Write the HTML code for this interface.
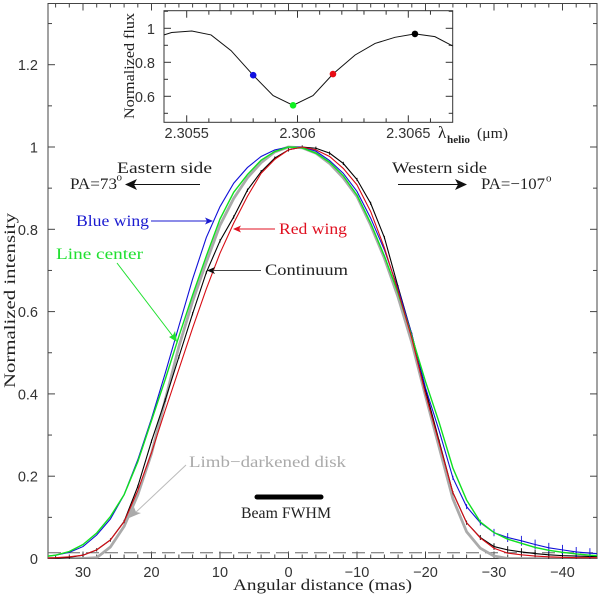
<!DOCTYPE html>
<html>
<head>
<meta charset="utf-8">
<style>
html,body{margin:0;padding:0;background:#fff;width:600px;height:595px;overflow:hidden}
svg{display:block}
text{font-family:"Liberation Serif",serif;fill:#222}
.tick{font-family:"Liberation Sans",sans-serif;font-size:14.5px;fill:#333}
</style>
</head>
<body>
<svg id="chart" xmlns="http://www.w3.org/2000/svg" width="600" height="595" viewBox="0 0 600 595">
<defs>
<clipPath id="main-clip"><rect x="48" y="3.5" width="549" height="555"/></clipPath>
<clipPath id="inset-clip"><rect x="164" y="10.7" width="288.7" height="111.6"/></clipPath>
</defs>
<g id="main-axes"></g>
<g id="main-series" clip-path="url(#main-clip)"></g>
<g id="annotations">
<text x="117" y="173" font-size="16" textLength="95" lengthAdjust="spacingAndGlyphs">Eastern side</text>
<text x="70" y="189" font-size="16" textLength="47" lengthAdjust="spacingAndGlyphs">PA=73</text>
<text x="116.5" y="180.5" font-size="11">o</text>
<line x1="200" y1="184.5" x2="130" y2="184.5" stroke="#111" stroke-width="1"/>
<polygon points="125,184.5 137,179 134,184.5 137,190" fill="#111"/>
<text x="392" y="173" font-size="16" textLength="95" lengthAdjust="spacingAndGlyphs">Western side</text>
<text x="481" y="189" font-size="16" textLength="64" lengthAdjust="spacingAndGlyphs">PA=−107</text>
<text x="546" y="181.5" font-size="11">o</text>
<line x1="398" y1="184.5" x2="462" y2="184.5" stroke="#111" stroke-width="1"/>
<polygon points="467,184.5 455,179 458,184.5 455,190" fill="#111"/>
<text x="76" y="226" font-size="16" textLength="73" lengthAdjust="spacingAndGlyphs" style="fill:#1a1ad0">Blue wing</text>
<line x1="151" y1="221" x2="209" y2="221" stroke="#1a1ad0"/>
<polygon points="213,221 205,217.5 207,221 205,224.5" fill="#1a1ad0"/>
<text x="279" y="234" font-size="16" textLength="68" lengthAdjust="spacingAndGlyphs" style="fill:#e01020">Red wing</text>
<line x1="275" y1="229" x2="237" y2="229" stroke="#e01020"/>
<polygon points="233,229 241,225.5 239,229 241,232.5" fill="#e01020"/>
<text x="56" y="259" font-size="16" textLength="87" lengthAdjust="spacingAndGlyphs" style="fill:#20e030">Line center</text>
<line x1="117" y1="263" x2="175" y2="339" stroke="#20e030"/>
<polygon points="177,342 169,337 173,335 175,331" fill="#20e030"/>
<text x="265" y="275" font-size="16" textLength="83" lengthAdjust="spacingAndGlyphs">Continuum</text>
<line x1="261" y1="270.5" x2="211" y2="270.5" stroke="#444"/>
<polygon points="207,270.5 215,267 213,270.5 215,274" fill="#111"/>
<text x="189" y="467" font-size="16" textLength="157" lengthAdjust="spacingAndGlyphs" style="fill:#aaa">Limb−darkened disk</text>
<line x1="186" y1="465" x2="134" y2="514" stroke="#bbb"/>
<polygon points="129,518 134,507 136,512 141,513" fill="#aaa"/>
<line x1="257" y1="497" x2="321" y2="497" stroke="#000" stroke-width="5" stroke-linecap="round"/>
<text x="241" y="518" font-size="16" textLength="90" lengthAdjust="spacingAndGlyphs">Beam FWHM</text>
<text x="233" y="590" font-size="16" textLength="179" lengthAdjust="spacingAndGlyphs">Angular distance (mas)</text>
<text transform="translate(15,388) rotate(-90)" font-size="16" textLength="175" lengthAdjust="spacingAndGlyphs">Normalized intensity</text>
</g>
<rect x="164" y="10.7" width="288.7" height="111.6" fill="#fff"/>
<g id="inset-axes"></g>
<g id="inset-series" clip-path="url(#inset-clip)"></g>
<text transform="translate(134,119) rotate(-90)" font-size="15" textLength="106" lengthAdjust="spacingAndGlyphs">Normalized flux</text>
<text x="438" y="138" font-size="17">λ</text>
<text x="447" y="143" font-size="10.5" font-weight="bold" textLength="23" lengthAdjust="spacingAndGlyphs">helio</text>
<text x="477" y="138" font-size="15" textLength="31" lengthAdjust="spacingAndGlyphs">(μm)</text>
</svg>
<script>
var distances = [36,34,32,30,28,26,24,22,20,18,16,14,12,10,8,6,4,2,0,-2,-4,-6,-8,-10,-12,-14,-16,-18,-20,-22,-24,-26,-28,-30,-32,-34,-36,-38,-40,-42,-44,-46];
var greyValues  = [0,0,0,0,0.002,0.028,0.078,0.155,0.255,0.385,0.515,0.625,0.72,0.81,0.875,0.925,0.962,0.988,1,0.998,0.985,0.96,0.925,0.88,0.81,0.73,0.635,0.525,0.395,0.27,0.145,0.065,0.025,0.006,0,0,0,0,0,0,0,0];
var blackValues = [0.001,0.001,0.003,0.008,0.021,0.045,0.09,0.175,0.285,0.385,0.49,0.595,0.695,0.772,0.83,0.895,0.94,0.973,0.993,1,0.997,0.985,0.96,0.921,0.863,0.78,0.66,0.545,0.41,0.285,0.16,0.087,0.051,0.029,0.021,0.016,0.012,0.009,0.007,0.006,0.005,0.005];
var blueValues  = [0.004,0.008,0.015,0.029,0.057,0.096,0.155,0.24,0.34,0.45,0.565,0.679,0.78,0.855,0.912,0.95,0.977,0.993,1,1,0.99,0.967,0.936,0.892,0.827,0.75,0.655,0.545,0.415,0.31,0.196,0.126,0.087,0.063,0.051,0.043,0.034,0.026,0.021,0.016,0.013,0.011];
var greenValues = [0.004,0.008,0.017,0.034,0.062,0.102,0.155,0.235,0.335,0.435,0.54,0.64,0.735,0.825,0.89,0.933,0.968,0.989,1,0.998,0.985,0.963,0.93,0.883,0.815,0.735,0.645,0.54,0.43,0.33,0.22,0.142,0.089,0.063,0.047,0.037,0.027,0.02,0.015,0.011,0.008,0.006];
var redValues   = [0.001,0.002,0.004,0.008,0.021,0.045,0.089,0.165,0.257,0.36,0.46,0.56,0.655,0.742,0.815,0.88,0.936,0.97,0.993,1,0.993,0.977,0.948,0.908,0.843,0.755,0.65,0.535,0.4,0.28,0.16,0.087,0.05,0.025,0.013,0.009,0.006,0.004,0.003,0.002,0.002,0.002];
var blueErrors  = [0,0,0,0,0,0,0,0,0,0,0,0,0,0,0,0,0,0,0,0,0,0,0,0,0,0,0,0,0,0,0.005,0.006,0.007,0.009,0.011,0.012,0.012,0.012,0.012,0.012,0.012,0];
var blackErrors = [0.003,0.003,0.003,0.004,0.004,0.004,0.004,0.004,0.004,0.004,0.004,0.004,0.004,0.004,0.004,0.004,0.004,0.004,0.004,0.004,0.004,0.004,0.004,0.004,0.004,0.004,0.004,0.004,0.004,0.004,0.004,0.005,0.006,0.008,0.009,0.009,0.009,0.009,0.009,0.009,0.009,0];
var dashedLevel = [0.014];

var xTickLabels = [30,20,10,0,-10,-20,-30,-40];
var yTickLabels = [0,0.2,0.4,0.6,0.8,1,1.2];

var insetWavelengths = [2.305398,2.305432,2.305523,2.30561,2.3057,2.3058,2.30589,2.30598,2.30607,2.30616,2.30626,2.30635,2.30644,2.30653,2.30662,2.3067];
var insetFlux = [0.961,0.975,0.984,0.961,0.869,0.724,0.604,0.547,0.604,0.731,0.843,0.911,0.947,0.967,0.951,0.896];
var insetMarkerWavelengths = [2.3058,2.30598,2.30616,2.30653];
var insetMarkerFlux = [0.724,0.547,0.731,0.967];
var insetMarkerNames = ['blue','green','red','black'];
var insetXTickValues = [2.3055,2.306,2.3065];
var insetXTickLabels = ['2.3055','2.306','2.3065'];
var insetYTickLabels = [0.6,0.8,1];

var NS = 'http://www.w3.org/2000/svg';
function X(d){return 288.5 - 6.85*d;}
function Y(v){return 558.5 - 411.5*v;}
function IX(l){return 186.7 + (l-2.3055)*221600;}
function IY(v){return 28.3 + (1-v)*170;}
function mk(parent,tag,attrs,txt){
  var el=document.createElementNS(NS,tag);
  for(var k in attrs){el.setAttribute(k,attrs[k]);}
  if(txt!==undefined){el.textContent=txt;}
  parent.appendChild(el);
  return el;
}
var mainAxes=document.getElementById('main-axes');
var mainSeries=document.getElementById('main-series');
var insetAxes=document.getElementById('inset-axes');
var insetSeries=document.getElementById('inset-series');

var frame=mk(mainAxes,'rect',{x:48,y:3.5,width:549,height:555,fill:'none',stroke:'#444','stroke-width':1});



function tick(parent,x1,y1,x2,y2,color){
  var t=mk(parent,'line',{x1:x1,y1:y1,x2:x2,y2:y2,stroke:color||'#444','stroke-width':1});
  
  
}
var xm;
for(xm=34;xm>=-44;xm-=2){
  var major=(xm%10===0);
  var len=major?7:4;
  tick(mainAxes,X(xm),558.5,X(xm),558.5-len);
  tick(mainAxes,X(xm),3.5,X(xm),3.5+len);
}
var ym;
for(ym=1;ym<=13;ym++){
  var isMajor=(ym%2===0);
  var ylen=isMajor?7:4;
  tick(mainAxes,48,Y(ym/10),48+ylen,Y(ym/10));
  tick(mainAxes,597,Y(ym/10),597-ylen,Y(ym/10));
}
xTickLabels.forEach(function(v){
  var t=mk(mainAxes,'text',{x:X(v),y:577,'text-anchor':'middle','class':'tick'},v<0?'−'+Math.abs(v):String(v));
  
  
});
yTickLabels.forEach(function(v){
  var t=mk(mainAxes,'text',{x:38,y:Y(v)+5.5,'text-anchor':'end','class':'tick'},String(v));
  
  
});

function linePath(xs,ys,fx,fy){
  return xs.map(function(x,i){return (i?'L':'M')+fx(x).toFixed(2)+' '+fy(ys[i]).toFixed(2);}).join(' ');
}
var dashed=mk(mainSeries,'line',{x1:48,x2:597,y1:Y(dashedLevel[0]),y2:Y(dashedLevel[0]),stroke:'#666','stroke-width':1,'stroke-dasharray':'13 6'});



var g1=mk(mainSeries,'path',{d:linePath(distances,greyValues,X,Y),fill:'none',stroke:'#aaaaaa','stroke-width':2.8,'stroke-linejoin':'round'});



var b1=mk(mainSeries,'path',{d:linePath(distances,blackValues,X,Y),fill:'none',stroke:'#000','stroke-width':1.1});


distances.forEach(function(d,i){
  var e=mk(mainSeries,'line',{x1:X(d),x2:X(d),y1:Y(blackValues[i]-blackErrors[i]),y2:Y(blackValues[i]+blackErrors[i]),stroke:'#000','stroke-width':0.9});
  
  
});

var b2=mk(mainSeries,'path',{d:linePath(distances,blueValues,X,Y),fill:'none',stroke:'#1010d8','stroke-width':1.1});


distances.forEach(function(d,i){
  var e=mk(mainSeries,'line',{x1:X(d),x2:X(d),y1:Y(blueValues[i]-blueErrors[i]),y2:Y(blueValues[i]+blueErrors[i]),stroke:'#1010d8','stroke-width':0.9});
  
  
});

var g2=mk(mainSeries,'path',{d:linePath(distances,greenValues,X,Y),fill:'none',stroke:'#10e020','stroke-width':1.4});



var r1=mk(mainSeries,'path',{d:linePath(distances,redValues,X,Y),fill:'none',stroke:'#d80c14','stroke-width':1.1});



var iframe=mk(insetAxes,'rect',{x:164,y:10.7,width:288.7,height:111.6,fill:'none',stroke:'#333','stroke-width':1});


var li;
for(li=23055;li<=23066;li++){
  var l=li/10000;
  var maj=(li%5===0);
  var tl=maj?7:4;
  tick(insetAxes,IX(l),122.3,IX(l),122.3-tl,'#333');
  tick(insetAxes,IX(l),10.7,IX(l),10.7+tl,'#333');
}
var vi;
for(vi=5;vi<=11;vi++){
  var vv=vi/10;
  var vm=(vi%2===0);
  var vl=vm?7:4;
  tick(insetAxes,164,IY(vv),164+vl,IY(vv),'#333');
  tick(insetAxes,452.7,IY(vv),452.7-vl,IY(vv),'#333');
}
insetXTickValues.forEach(function(v,i){
  var t=mk(insetAxes,'text',{x:IX(v),y:138,'text-anchor':'middle','class':'tick'},insetXTickLabels[i]);
  
  
});
insetYTickLabels.forEach(function(v){
  var t=mk(insetAxes,'text',{x:155,y:IY(v)+5.5,'text-anchor':'end','class':'tick'},String(v));
  
  
});
var il=mk(insetSeries,'path',{d:linePath(insetWavelengths,insetFlux,IX,IY),fill:'none',stroke:'#111','stroke-width':1});


var markerColors={blue:'#1010e0',green:'#10f020',red:'#e80c14',black:'#000'};
insetMarkerWavelengths.forEach(function(l,i){
  var c=mk(insetSeries,'circle',{cx:IX(l),cy:IY(insetMarkerFlux[i]),r:3.3,fill:markerColors[insetMarkerNames[i]]});
  
  
});
</script>
</body>
</html>
